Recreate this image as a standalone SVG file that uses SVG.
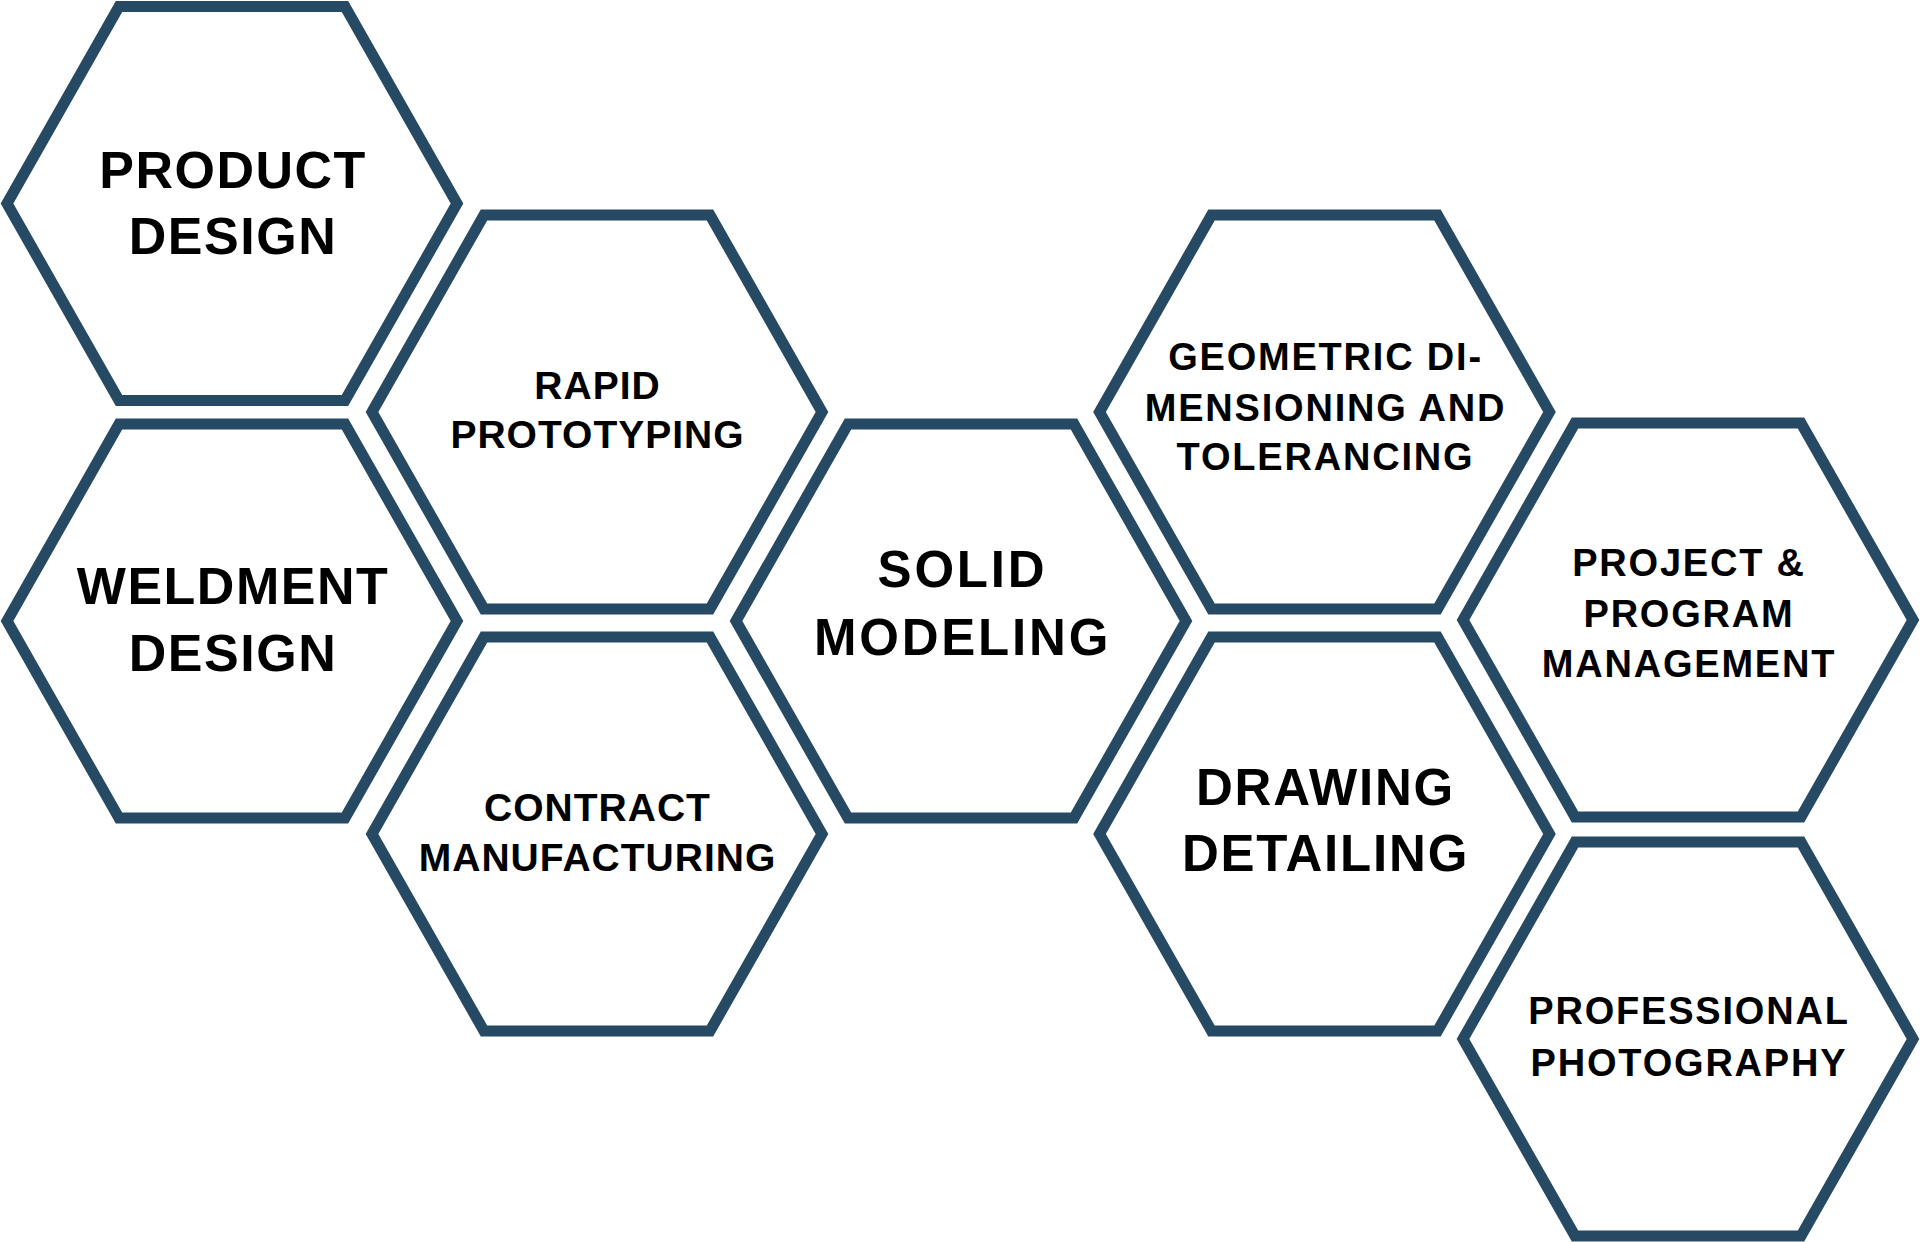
<svg xmlns="http://www.w3.org/2000/svg" width="1920" height="1242" viewBox="0 0 1920 1242">
  <style>
    .hex { fill: #ffffff; stroke: #274a64; stroke-width: 11; stroke-linejoin: miter; }
    .t { font-family: "Liberation Sans", Arial, Helvetica, sans-serif; font-weight: bold; fill: #000000; text-anchor: middle; }
    .big { font-size: 52px; letter-spacing: 1.5px; }
    .mid { font-size: 39px; letter-spacing: 1px; }
    .sm { font-size: 38px; letter-spacing: 1.8px; }
  </style>
  <defs>
    <polygon id="hexshape" points="-225,0 -113,-197 113,-197 225,0 113,197 -113,197"/>
  </defs>
  <rect width="1920" height="1242" fill="#ffffff"/>
  <g id="connectors"></g>

  <g id="product-design" transform="translate(232,203.5)">
    <use href="#hexshape" class="hex"/>
    <text class="t big" x="1" y="-15.5">PRODUCT</text>
    <text class="t big" x="1" y="50.5">DESIGN</text>
  </g>

  <g id="rapid-prototyping" transform="translate(597,412)">
    <use href="#hexshape" class="hex"/>
    <text class="t mid" x="0.5" y="-13">RAPID</text>
    <text class="t mid" x="0.5" y="36">PROTOTYPING</text>
  </g>

  <g id="weldment-design" transform="translate(232,621)">
    <use href="#hexshape" class="hex"/>
    <text class="t big" x="1" y="-17" letter-spacing="2.5">WELDMENT</text>
    <text class="t big" x="1" y="50">DESIGN</text>
  </g>

  <g id="contract-manufacturing" transform="translate(597,834)">
    <use href="#hexshape" class="hex"/>
    <text class="t mid" x="0.5" y="-13" letter-spacing="1.4">CONTRACT</text>
    <text class="t mid" x="0.5" y="37" letter-spacing="1.4">MANUFACTURING</text>
  </g>

  <g id="solid-modeling" transform="translate(961,621)">
    <use href="#hexshape" class="hex"/>
    <text class="t" x="1.5" y="-34" font-size="51" letter-spacing="2.8">SOLID</text>
    <text class="t" x="1.5" y="34" font-size="51" letter-spacing="2.8">MODELING</text>
  </g>

  <g id="gdt" transform="translate(1324.5,412)">
    <use href="#hexshape" class="hex"/>
    <text class="t sm" x="1" y="-42" letter-spacing="2.2">GEOMETRIC DI-</text>
    <text class="t sm" x="1" y="8.5" letter-spacing="2.2">MENSIONING AND</text>
    <text class="t sm" x="1" y="58" letter-spacing="2.2">TOLERANCING</text>
  </g>

  <g id="drawing-detailing" transform="translate(1324.5,834)">
    <use href="#hexshape" class="hex"/>
    <text class="t" x="1" y="-29" font-size="51" letter-spacing="1.8">DRAWING</text>
    <text class="t" x="1" y="37" font-size="51" letter-spacing="1.8">DETAILING</text>
  </g>

  <g id="project-program-management" transform="translate(1688,620)">
    <use href="#hexshape" class="hex"/>
    <text class="t sm" x="1" y="-44" letter-spacing="2.3">PROJECT &amp;</text>
    <text class="t sm" x="1" y="6.5" letter-spacing="2.3">PROGRAM</text>
    <text class="t sm" x="1" y="56.5" letter-spacing="2.3">MANAGEMENT</text>
  </g>

  <g id="professional-photography" transform="translate(1688,1039)">
    <use href="#hexshape" class="hex"/>
    <text class="t sm" x="1" y="-15" letter-spacing="1.4">PROFESSIONAL</text>
    <text class="t sm" x="1" y="37" letter-spacing="1.4">PHOTOGRAPHY</text>
  </g>
</svg>
